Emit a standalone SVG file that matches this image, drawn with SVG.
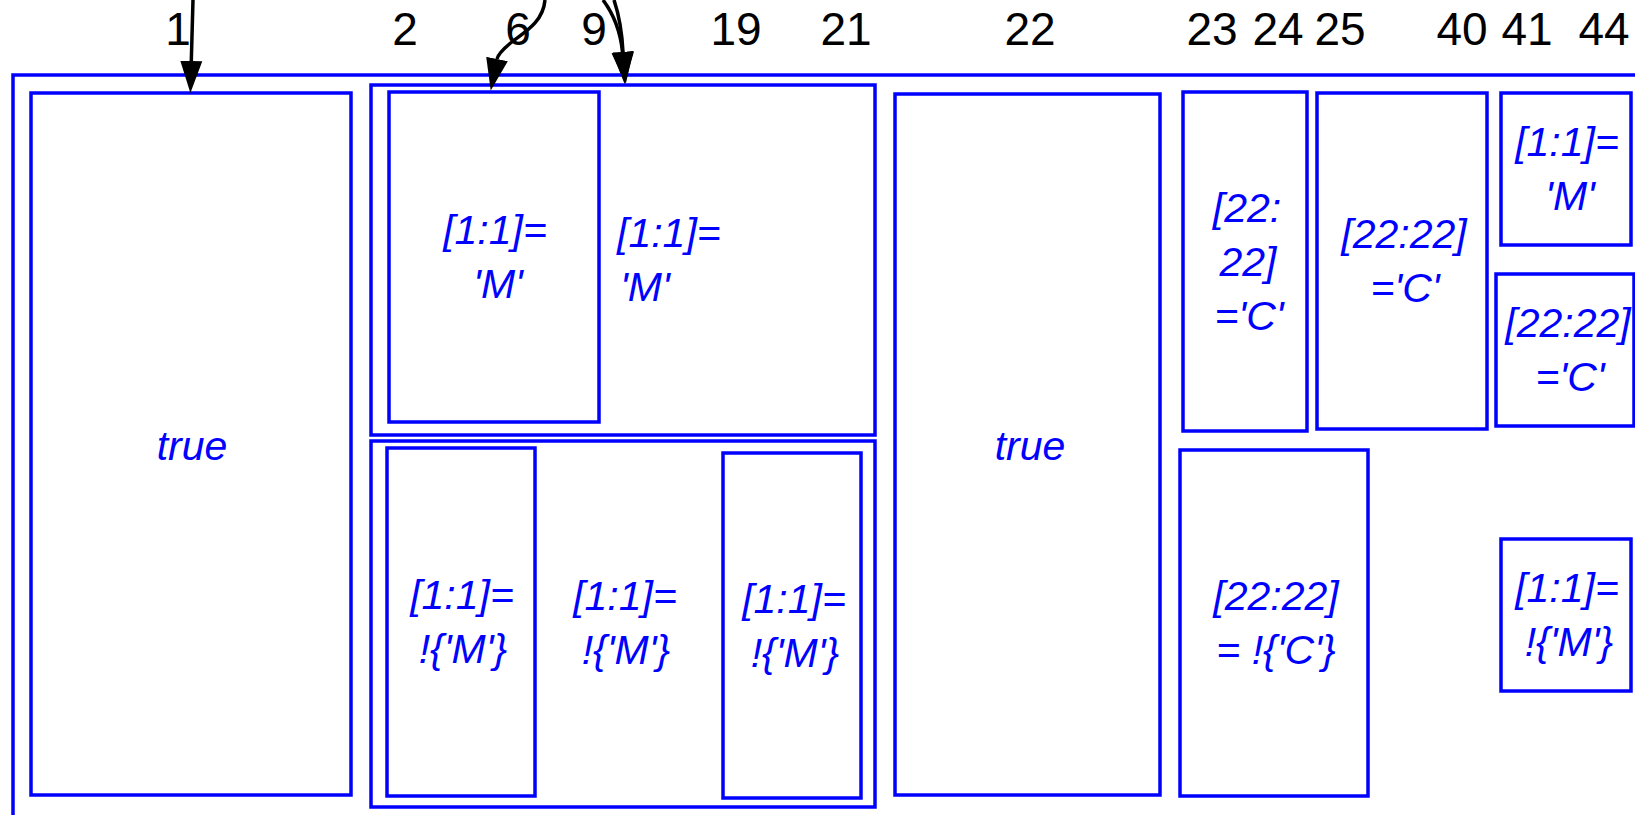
<svg xmlns="http://www.w3.org/2000/svg" width="1635" height="815" viewBox="0 0 1635 815">
  <style>
    .box { fill: none; stroke: #0000ff; stroke-width: 3.5; }
    .lbl { font-family: "Liberation Sans", Arial, sans-serif; font-style: italic; font-size: 41px; fill: #0000ff; text-anchor: middle; }
    .lbl-start { text-anchor: start; }
    .idx { font-family: "Liberation Sans", Arial, sans-serif; font-size: 46px; fill: #000000; text-anchor: middle; }
    .edge { fill: none; stroke: #000000; stroke-width: 3.5; marker-end: url(#arrow); }
  </style>
  <defs>
    <marker id="arrow" markerUnits="userSpaceOnUse" markerWidth="34" markerHeight="24" viewBox="0 -12 34 24" refX="0" refY="0" orient="auto">
      <path d="M0,-11 L32,0 L0,11 z" fill="#000000"/>
    </marker>
  </defs>
  <rect width="1635" height="815" fill="#ffffff"/>

  <!-- position ruler -->
  <g id="ruler">
    <text class="idx" x="178" y="45">1</text>
    <text class="idx" x="405" y="45">2</text>
    <text class="idx" x="518" y="45">6</text>
    <text class="idx" x="594" y="45">9</text>
    <text class="idx" x="736" y="45">19</text>
    <text class="idx" x="846" y="45">21</text>
    <text class="idx" x="1030" y="45">22</text>
    <text class="idx" x="1212" y="45">23</text>
    <text class="idx" x="1278" y="45">24</text>
    <text class="idx" x="1340" y="45">25</text>
    <text class="idx" x="1462" y="45">40</text>
    <text class="idx" x="1527" y="45">41</text>
    <text class="idx" x="1604" y="45">44</text>
  </g>

  <!-- enclosing frame -->
  <g id="root">
    <rect class="box" x="13" y="75" width="1700" height="800"/>
  </g>

  <g id="n-true-1">
    <rect class="box" x="31" y="93" width="320" height="702"/>
    <text class="lbl" x="192" y="460">true</text>
  </g>

  <g id="n-group-a">
    <rect class="box" x="371" y="85" width="504" height="350"/>
    <text class="lbl lbl-start" x="617" y="247">[1:1]=</text>
    <text class="lbl lbl-start" x="620" y="301">'M'</text>
  </g>
  <g id="n-a1">
    <rect class="box" x="389" y="92" width="210" height="330"/>
    <text class="lbl" x="495" y="244">[1:1]=</text>
    <text class="lbl" x="498" y="298">'M'</text>
  </g>

  <g id="n-group-b">
    <rect class="box" x="371" y="441" width="504" height="366"/>
    <text class="lbl" x="625" y="610">[1:1]=</text>
    <text class="lbl" x="626" y="664">!{'M'}</text>
  </g>
  <g id="n-b1">
    <rect class="box" x="387" y="448" width="148" height="348"/>
    <text class="lbl" x="462" y="609">[1:1]=</text>
    <text class="lbl" x="463" y="663">!{'M'}</text>
  </g>
  <g id="n-b3">
    <rect class="box" x="723" y="453" width="138" height="345"/>
    <text class="lbl" x="794" y="613">[1:1]=</text>
    <text class="lbl" x="795" y="667">!{'M'}</text>
  </g>

  <g id="n-true-2">
    <rect class="box" x="895" y="94" width="265" height="701"/>
    <text class="lbl" x="1030" y="460">true</text>
  </g>

  <g id="n-c1">
    <rect class="box" x="1183" y="92" width="124" height="339"/>
    <text class="lbl" x="1247" y="222">[22:</text>
    <text class="lbl" x="1248" y="276">22]</text>
    <text class="lbl" x="1249" y="330">='C'</text>
  </g>
  <g id="n-c2">
    <rect class="box" x="1317" y="93" width="170" height="336"/>
    <text class="lbl" x="1404" y="248">[22:22]</text>
    <text class="lbl" x="1405" y="302">='C'</text>
  </g>
  <g id="n-c3">
    <rect class="box" x="1180" y="450" width="188" height="346"/>
    <text class="lbl" x="1276" y="610">[22:22]</text>
    <text class="lbl" x="1276" y="664">= !{'C'}</text>
  </g>

  <g id="n-d1">
    <rect class="box" x="1501" y="93" width="130" height="152"/>
    <text class="lbl" x="1567" y="156">[1:1]=</text>
    <text class="lbl" x="1570" y="210">'M'</text>
  </g>
  <g id="n-d2">
    <rect class="box" x="1496" y="274" width="138" height="152"/>
    <text class="lbl" x="1568" y="337">[22:22]</text>
    <text class="lbl" x="1570" y="391">='C'</text>
  </g>
  <g id="n-d3">
    <rect class="box" x="1501" y="539" width="130" height="152"/>
    <text class="lbl" x="1567" y="602">[1:1]=</text>
    <text class="lbl" x="1569" y="656">!{'M'}</text>
  </g>

  <!-- connectors entering from above -->
  <g id="edges">
    <path class="edge" d="M193,0 L191.3,61"/>
    <path class="edge" d="M545,0 C543,22 525,32 513,41 C503,49 498,54 497,59"/>
    <path class="edge" d="M603,0 C612,12 620,28 622.5,52"/>
    <path class="edge" d="M614,0 C619,15 622,32 623,52"/>
  </g>
</svg>
